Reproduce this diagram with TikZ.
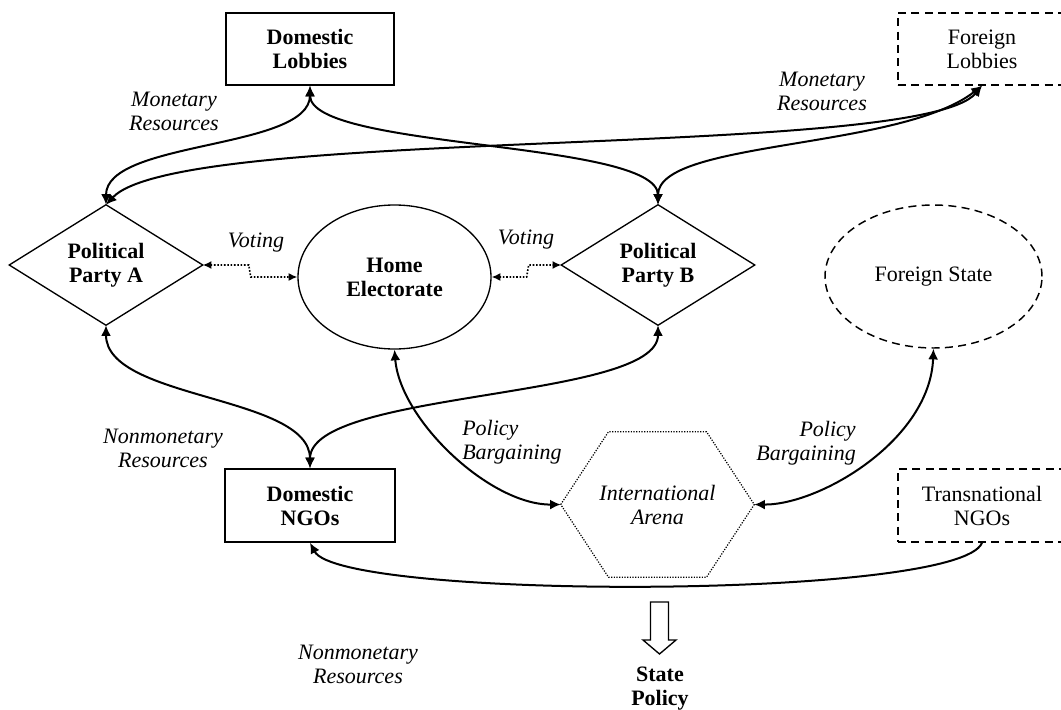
\documentclass[tikz,border=0pt]{standalone}
\usepackage{fontspec}
\setmainfont{Liberation Serif}
\usetikzlibrary{arrows.meta,shapes.geometric,calc}
\begin{document}
\begin{tikzpicture}[x=0.75pt,y=-0.75pt,
  every node/.style={font=\fontsize{16.5}{18}\selectfont, align=center, inner sep=0pt},
  bf/.style={font=\fontsize{16.5}{18}\selectfont\bfseries},
  lab/.style={font=\fontsize{16.5}{18}\selectfont\itshape},
  box/.style={draw, line width=1.1pt, minimum width=126pt, minimum height=54pt},
  dbox/.style={draw, line width=1.1pt, dash pattern=on 6pt off 4pt, minimum width=126pt, minimum height=54pt},
  dia/.style={minimum width=144.75pt, minimum height=90pt},
  outline/.style={line width=1pt},
  tipA/.tip={Latex[length=8pt,width=7.5pt]},
  conn/.style={line width=1.5pt, tipA-tipA},
  oneway/.style={line width=1.5pt, -tipA},
  vote/.style={line width=1.2pt, dash pattern=on 1.2pt off 1.3pt, {Latex[length=6.5pt,width=6pt]}-{Latex[length=6.5pt,width=6pt]}},
  hexline/.style={line width=0.9pt, dash pattern=on 0.9pt off 1.1pt}
]
\useasboundingbox (0,0) rectangle (1061,710);

% main nodes
\node[box, bf] (dl) at (310,49) {Domestic\\Lobbies};
\node[dbox] (fl) at (982,49) {Foreign\\Lobbies};

\node[dia, bf] (pa) at (106,265) {Political\\Party A};
\draw[outline] (pa.west) -- (pa.north) -- (pa.east) -- (pa.south) -- cycle;

\node[ellipse, draw, outline, minimum width=144.75pt, minimum height=108pt, bf] (he) at (394.5,277) {Home\\Electorate};

\node[dia, bf] (pb) at (658,265) {Political\\Party B};
\draw[outline] (pb.west) -- (pb.north) -- (pb.east) -- (pb.south) -- cycle;

\node[ellipse, draw, line width=1.1pt, dash pattern=on 6pt off 4pt, minimum width=162.75pt, minimum height=107.25pt] (fs) at (933.5,276.5) {Foreign State};

\node[box, bf, minimum width=127.5pt, minimum height=54.75pt] (dn) at (310,505.5) {Domestic\\NGOs};

\node[lab, minimum width=144.75pt, minimum height=108.75pt] (ia) at (657.5,504.5) {International\\Arena};
\draw[hexline] (ia.west) -- ($(ia.north)+(-49,0)$) -- ($(ia.north)+(49,0)$) -- (ia.east)
  -- ($(ia.south)+(49,0)$) -- ($(ia.south)+(-49,0)$) -- cycle;

\node[dbox, minimum height=54.75pt] (tn) at (982,505.5) {Transnational\\NGOs};

% labels
\node[lab] (ml) at (174,111) {Monetary\\Resources};
\node[lab] (mr) at (822,91) {Monetary\\Resources};
\node[lab] (vl) at (256,243) {Voting};
\node[lab] (vr) at (526,240) {Voting};
\node[lab] (nl) at (163,448) {Nonmonetary\\Resources};
\node[lab, align=left, anchor=west] (pbl) at (462,442) {Policy\\Bargaining};
\node[lab, align=right, anchor=east] (pbr) at (856,443) {Policy\\Bargaining};
\node[lab] (nb) at (358,664) {Nonmonetary\\Resources};
\node[bf] (sp) at (660,689) {State\\Policy};

% block arrow to state policy
\draw[line width=1pt, fill=white] (650.5,602) -- (668.5,602) -- (668.5,640) -- (676,640)
  -- (659.5,654) -- (643,640) -- (650.5,640) -- cycle;

% connectors
\draw[conn] (dl.south) .. controls (310,150) and (106,140) .. (pa.north);
\draw[conn] (dl.south) .. controls (310,150) and (658,140) .. (pb.north);
\draw[conn] (fl.south) .. controls (920,160) and (180,125) .. (pa.north);
\draw[conn] (fl.south) .. controls (900,150) and (658,140) .. (pb.north);
\draw[conn] (pa.south) .. controls (106,400) and (310,395) .. (dn.north);
\draw[conn] (pb.south) .. controls (658,400) and (310,390) .. (dn.north);
\draw[conn] (he.south) .. controls (400,420) and (490,505) .. (ia.west);
\draw[conn] (fs.south) .. controls (930,440) and (820,505) .. (ia.east);
\draw[oneway] (tn.south) .. controls (960,600) and (340,600) .. (dn.south);

\draw[vote] (pa.east) -- ++(46,0) -- ++(2,12) -- (he.west);
\draw[vote] (he.east) -- ++(35,0) -- ++(2,-12) -- (pb.west);
\end{tikzpicture}
\end{document}
